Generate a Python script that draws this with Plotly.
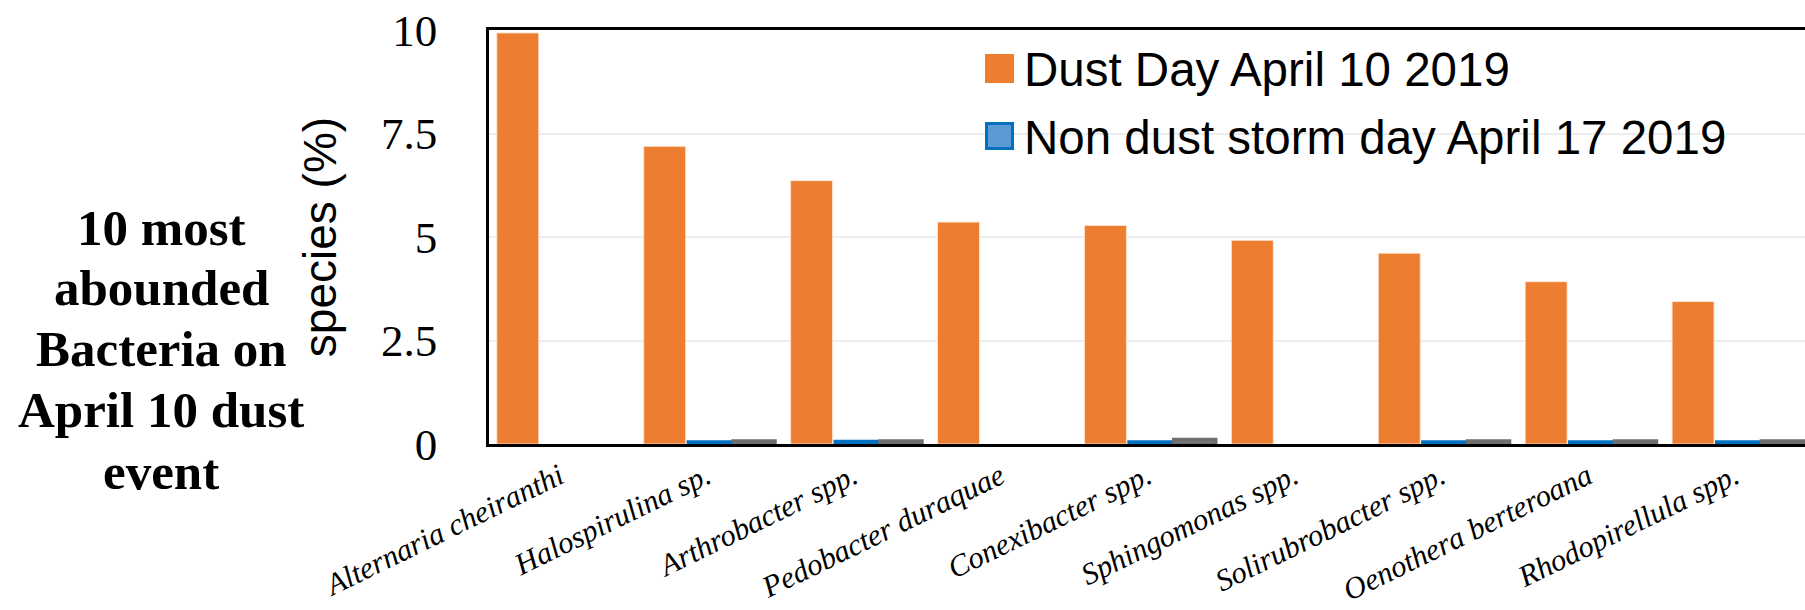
import plotly.graph_objects as go

# ---------------- data ----------------
species = [
    "Alternaria cheiranthi",
    "Halospirulina sp.",
    "Arthrobacter spp.",
    "Pedobacter duraquae",
    "Conexibacter spp.",
    "Sphingomonas spp.",
    "Solirubrobacter spp.",
    "Oenothera berteroana",
    "Rhodopirellula spp.",
]
dust_day = [9.93, 7.19, 6.36, 5.36, 5.28, 4.92, 4.61, 3.92, 3.44]
non_dust_day = [None, 0.05, 0.06, None, 0.05, None, 0.05, 0.05, 0.05]
third_series = [None, 0.07, 0.07, None, 0.11, None, 0.07, 0.07, 0.07]

legend_labels = ["Dust Day April 10 2019", "Non dust storm day April 17 2019"]
title_lines = ["10 most", "abounded", "Bacteria on", "April 10 dust", "event"]
y_ticks = [0, 2.5, 5, 7.5, 10]
y_tick_text = ["0", "2.5", "5", "7.5", "10"]

ORANGE = "#ED7D31"
BLUE_FILL = "#5B9BD5"
BLUE_LINE = "#0070C0"
GRAY_FILL = "#808080"
GRAY_LINE = "#6E6E6E"

W, H = 1805, 610
L, R, T, B = 489, 0, 30, 166
PW, PH = W - L - R, H - T - B


def px_x(x):
    return (x - L) / PW


def px_y(y):
    return (H - B - y) / PH


fig = go.Figure()
fig.add_trace(go.Bar(x=species, y=dust_day, name=legend_labels[0],
                     marker=dict(color=ORANGE, line=dict(color="rgba(255,230,210,0.9)", width=1))))
fig.add_trace(go.Bar(x=species, y=non_dust_day, name=legend_labels[1],
                     marker=dict(color=BLUE_FILL, line=dict(color=BLUE_LINE, width=3.5))))
fig.add_trace(go.Bar(x=species, y=third_series, name="",
                     marker=dict(color=GRAY_FILL, line=dict(color=GRAY_LINE, width=3.5))))

fig.update_layout(
    width=W, height=H,
    margin=dict(l=L, r=R, t=T, b=B, autoexpand=False),
    paper_bgcolor="white", plot_bgcolor="white",
    barmode="group", bargap=0.088, bargroupgap=0.06,
    showlegend=False,
    xaxis=dict(
        range=[-0.5, 8.458], showgrid=False, zeroline=False,
        showline=True, linecolor="black", linewidth=2.5, mirror=True,
        ticks="outside", ticklen=0, tickangle=-26, ticklabelstandoff=0,
        ticklabelshift=-3,
        tickfont=dict(family="Liberation Serif", size=30.5, color="black", style="italic"),
    ),
    yaxis=dict(
        range=[0, 10], tickvals=y_ticks, ticktext=y_tick_text,
        showgrid=True, gridcolor="#EDEDED", gridwidth=1.5, zeroline=False,
        showline=True, linecolor="black", linewidth=2.5, mirror=False,
        ticks="", ticklabelstandoff=40,
        tickfont=dict(family="Liberation Serif", size=45, color="black"),
        title=dict(text="species (%)", standoff=30,
                   font=dict(family="Liberation Sans, Arial", size=46, color="black")),
    ),
)

# left descriptive title (one annotation per line for exact line spacing)
line_centers = [228, 288, 349, 410, 472]
for txt, yc in zip(title_lines, line_centers):
    fig.add_annotation(
        text="<b>" + txt + "</b>",
        xref="paper", yref="paper", x=px_x(161), y=px_y(yc),
        xanchor="center", yanchor="middle", showarrow=False,
        font=dict(family="Liberation Serif", size=51, color="black"),
    )

# legend (drawn manually to match the large square swatches)
legend_rows = [
    (54, 83, ORANGE, ORANGE, 0),
    (122, 150, BLUE_FILL, BLUE_LINE, 3),
]
for (y0, y1, fill, line, lw), label in zip(legend_rows, legend_labels):
    fig.add_shape(type="rect", xref="paper", yref="paper",
                  x0=px_x(985 + lw / 2), x1=px_x(1014 - lw / 2),
                  y0=px_y(y1 - lw / 2), y1=px_y(y0 + lw / 2),
                  fillcolor=fill, line=dict(color=line, width=lw if lw else 0))
    fig.add_annotation(text=label, xref="paper", yref="paper",
                       x=px_x(1022), y=px_y((y0 + y1) / 2 + 1),
                       xanchor="left", yanchor="middle", showarrow=False,
                       font=dict(family="Liberation Sans, Arial", size=47.5, color="black"))

fig.write_html("out.html", config={"displayModeBar": False},
               post_script="document.body.style.margin='0';")
